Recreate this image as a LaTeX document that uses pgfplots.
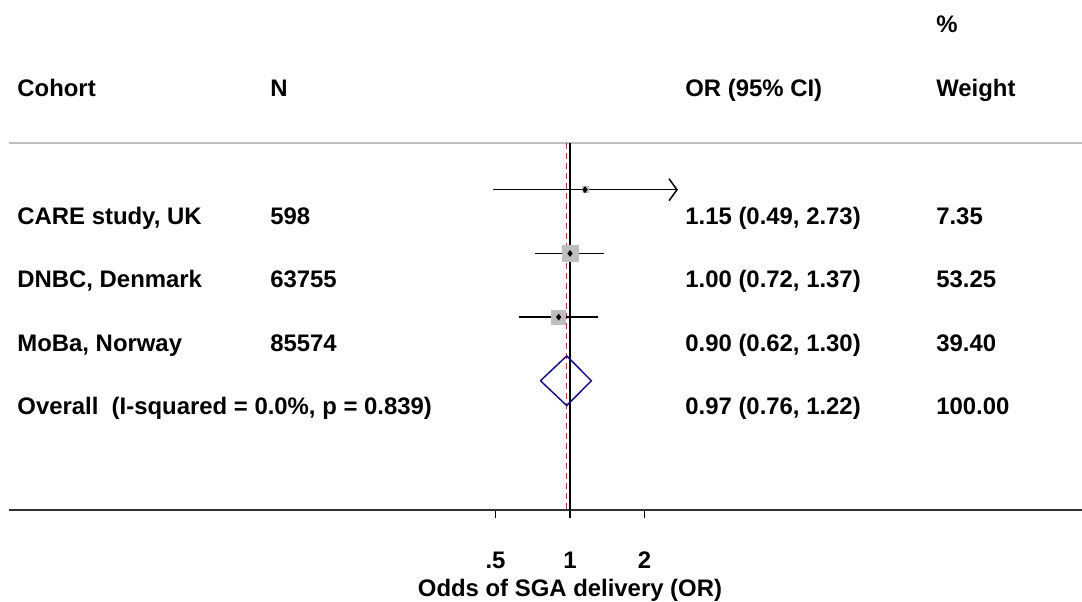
\documentclass[border=0pt]{standalone}
\usepackage{fontspec}
\setmainfont{Liberation Sans}
\usepackage{pgfplots}
\pgfplotsset{compat=1.18}
\usetikzlibrary{arrows.meta}
\definecolor{sqgray}{RGB}{190,190,190}
\definecolor{diamblue}{RGB}{20,20,130}
\definecolor{refred}{RGB}{170,60,60}
\definecolor{axgray}{RGB}{50,50,50}
\newcommand{\fs}{\fontsize{11.95}{14}\selectfont\bfseries}
\tikzset{txt/.style={font=\fs, inner sep=0pt, anchor=base west}}

\begin{document}
\begin{tikzpicture}
\useasboundingbox (0,0) rectangle (541pt,300.5pt);
\begin{axis}[
  at={(4.5pt,45.5pt)}, anchor=south west,
  scale only axis, width=536.5pt, height=255pt,
  xmode=log, xmin=0.00541, xmax=117.2,
  ymin=-1.03, ymax=6.98,
  axis x line*=bottom, axis y line=none,
  x axis line style={axgray, line width=1pt, -},
  xtick={0.5,1,2}, xticklabels={.5,1,2}, minor xtick={},
  tick align=outside, major tick length=4pt,
  xtick style={black, line width=0.7pt},
  /pgf/number format/assume math mode=true,
  xticklabel style={font=\fs, anchor=base, yshift=-25pt},
  xlabel={Odds of SGA delivery (OR)},
  xlabel style={font=\fs, at={(axis description cs:0.5228,0)}, anchor=base, yshift=-43pt},
  clip=false,
]

% header rule
\addplot[sqgray, line width=0.75pt] coordinates {(0.00541,4.736) (117.2,4.736)};

% no-effect line and overall estimate line
\addplot[black, line width=0.7pt] coordinates {(1,4.736) (1,-1.03)};
\addplot[refred, line width=0.6pt, dash pattern=on 3pt off 2pt] coordinates {(0.97,4.736) (0.97,-1.03)};

% study weights (square boxes)
\addplot[only marks, mark=square*, color=sqgray, mark size=1.49pt] coordinates {(1.15,4)};
\addplot[only marks, mark=square*, color=sqgray, mark size=4pt] coordinates {(1.00,3)};
\addplot[only marks, mark=square*, color=sqgray, mark size=3.44pt] coordinates {(0.90,2)};

% confidence intervals
\addplot[black, line width=0.75pt, -{Straight Barb[length=4pt,width=11pt]}] coordinates {(0.49,4) (2.73,4)};
\addplot[black, line width=0.75pt] coordinates {(0.72,3) (1.37,3)};
\addplot[black, line width=0.75pt] coordinates {(0.62,2) (1.30,2)};

% point estimates
\addplot[only marks, mark=diamond*, mark size=1.4pt, color=black] coordinates {(1.15,4) (1.00,3) (0.90,2)};

% pooled estimate
\addplot[diamblue, line width=0.75pt] coordinates {(0.76,1) (0.97,1.39) (1.22,1) (0.97,0.61) (0.76,1)};

% column text
\node[txt] at (axis cs:30.1,6.463) {\%};
\node[txt] at (axis cs:0.00583,5.458) {Cohort};
\node[txt] at (axis cs:0.0613,5.458) {N};
\node[txt] at (axis cs:2.915,5.458) {OR (95\% CI)};
\node[txt] at (axis cs:30.1,5.458) {Weight};

\node[txt] at (axis cs:0.00583,3.46) {CARE study, UK};
\node[txt] at (axis cs:0.0613,3.46) {598};
\node[txt] at (axis cs:2.915,3.46) {1.15 (0.49, 2.73)};
\node[txt] at (axis cs:30.1,3.46) {7.35};

\node[txt] at (axis cs:0.00583,2.46) {DNBC, Denmark};
\node[txt] at (axis cs:0.0613,2.46) {63755};
\node[txt] at (axis cs:2.915,2.46) {1.00 (0.72, 1.37)};
\node[txt] at (axis cs:30.1,2.46) {53.25};

\node[txt] at (axis cs:0.00583,1.455) {MoBa, Norway};
\node[txt] at (axis cs:0.0613,1.455) {85574};
\node[txt] at (axis cs:2.915,1.455) {0.90 (0.62, 1.30)};
\node[txt] at (axis cs:30.1,1.455) {39.40};

\node[txt] at (axis cs:0.00583,0.466) {Overall\ \ (I-squared = 0.0\%, p = 0.839)};
\node[txt] at (axis cs:2.915,0.466) {0.97 (0.76, 1.22)};
\node[txt] at (axis cs:30.1,0.466) {100.00};

\end{axis}
\end{tikzpicture}
\end{document}
